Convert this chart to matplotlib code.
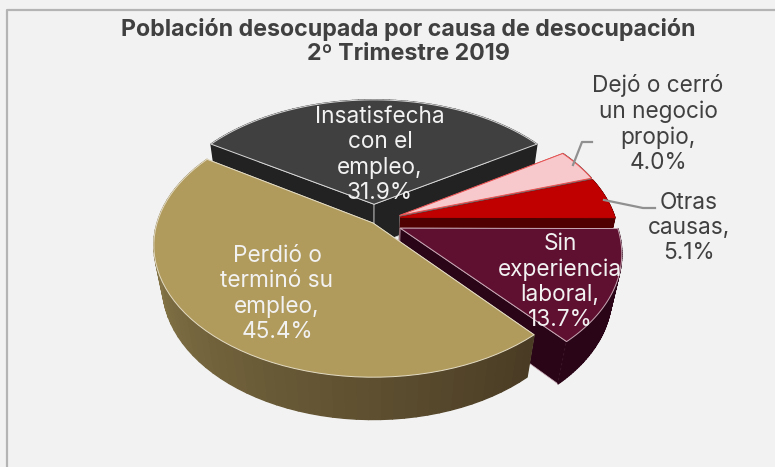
import numpy as np
import matplotlib
matplotlib.use("Agg")
import matplotlib.pyplot as plt
from matplotlib.patches import Polygon
from matplotlib.collections import PolyCollection
from matplotlib.colors import to_rgb

# data, clockwise starting at the dark slice
categories = ["Insatisfecha\ncon el\nempleo,", "Dejó o cerró\nun negocio\npropio,", "Otras\ncausas,",
              "Sin\nexperiencia\nlaboral,", "Perdió o\nterminó su\nempleo,"]
values = [31.9, 4.0, 5.1, 13.7, 45.4]
title = "Población desocupada por causa de desocupación\n2º Trimestre 2019"

top_colors = ["#404040", "#f8c9cc", "#c00000", "#5f1030", "#b09a5c"]
wall_colors = ["#222222", "#6e6262", "#500000", "#2a0518", "#4a3c24"]
edge_colors = ["#d8d8d8", "#f05050", "#c00000", "#c8a8b4", "#e4dcc4"]
wall_edges = ["#d8d8d8", "#6e6262", "#500000", "#c8a8b4", "#e4dcc4"]
explode = [(0.005, 0.15), (0.125, 0.06), (0.128, 0.045), (0.125, -0.04), (0, 0)]
label_pos = [(380, 155), (658, 124), (689, 228), (560, 282), (277, 294)]
label_colors = ["#f2f2f2", "#404040", "#404040", "#f2f2f2", "#f2f2f2"]
leaders = {1: [(573, 165), (582, 142), (592, 142)], 2: [(604, 200), (643, 208), (655, 208)]}

# projection of the tilted disc, pixels
cx, cy = 373, 223
A, B, H = 216, 128, 43
k, m = 0.17, 0.04


def project(u, v, z=0.0):
    s = 1 / (1 + k * v + m * z)
    return cx + A * u * s, cy - B * v * s + H * z * s


def slice_pts(t0, t1, off, z=0.0):
    t = np.radians(np.linspace(t0, t1, 60))
    x, y = project(np.sin(t) + off[0], np.cos(t) + off[1], z)
    return np.column_stack([x, y])


plt.rcParams['font.family'] = ['Inter', 'DejaVu Sans']
fig = plt.figure(figsize=(7.75, 4.67), dpi=100, facecolor="#f2f2f2")
ax = fig.add_axes([0, 0, 1, 1])
ax.set_xlim(0, 775)
ax.set_ylim(467, 0)
ax.axis("off")

# frame
ax.plot([6.5, 6.5, 775], [467, 9.5, 9.5], color="#b4b4b4", lw=1.6)

start = -values[0] / 100 * 360 / 2
ends = start + np.cumsum(values) / 100 * 360
starts = np.r_[start, ends[:-1]]

for i in range(len(values)):
    t0, t1, off = starts[i], ends[i], explode[i]
    apex_top = project(off[0], off[1])
    apex_bot = project(off[0], off[1], 1)
    arc_top = slice_pts(t0, t1, off)
    arc_bot = slice_pts(t0, t1, off, 1)
    wall = wall_colors[i]

    # radial walls
    for j in (0, -1):
        ax.add_patch(Polygon([apex_top, arc_top[j], arc_bot[j], apex_bot], fc=wall, ec=wall_edges[i], lw=0.5))

    # outer wall, the big slice fades from light to dark
    quads = [[arc_top[j], arc_top[j + 1], arc_bot[j + 1], arc_bot[j]] for j in range(len(arc_top) - 1)]
    if i == 4:
        c0, c1 = np.array(to_rgb("#4a3c24")), np.array(to_rgb("#8c7c4c"))
        f = np.clip(np.linspace(0, 1.2, len(quads)), 0, 1)[:, None]
        cols = c0 + (c1 - c0) * f
    else:
        cols = [wall] * len(quads)
    ax.add_collection(PolyCollection(quads, facecolors=cols, edgecolors=cols, linewidths=1.0))

    # top face
    ax.add_patch(Polygon(np.vstack([apex_top, arc_top]), fc=top_colors[i], ec=edge_colors[i], lw=0.7, joinstyle="round"))

# leader lines
for i, pts in leaders.items():
    ax.plot(*zip(*pts), color="#909090", lw=1.6)

for i, name in enumerate(categories):
    ax.text(*label_pos[i], f"{name}\n{values[i]:.1f}%", color=label_colors[i], fontsize=16.3,
            ha="center", va="center", linespacing=1.18)

ax.text(408, 41.5, title, color="#404040", fontsize=16.7, fontweight="bold", ha="center", va="center", linespacing=1.12)

fig.savefig("out.png", dpi=100, facecolor=fig.get_facecolor())
